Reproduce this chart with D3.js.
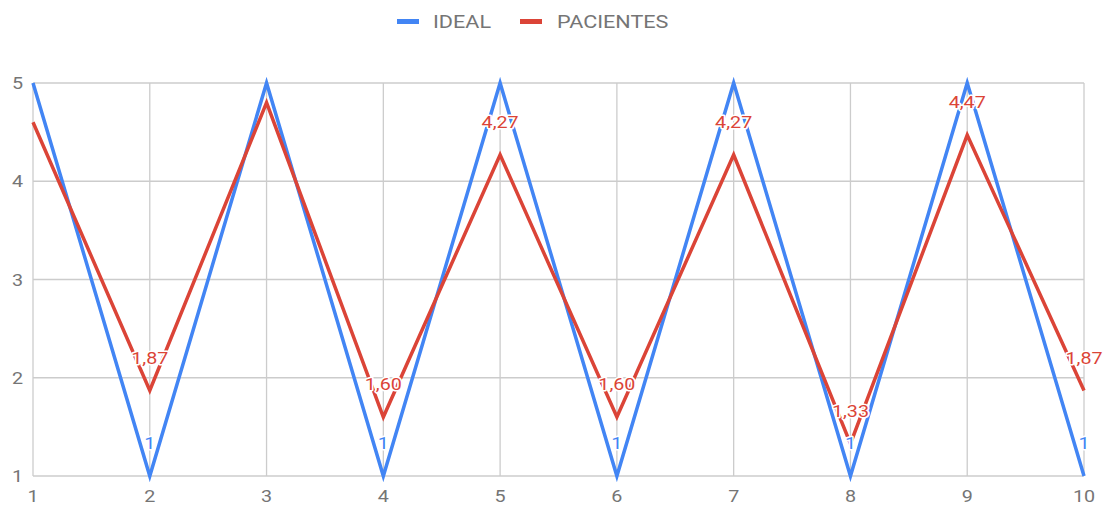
<!DOCTYPE html>
<html><head><meta charset="utf-8">
<script src="https://cdn.jsdelivr.net/npm/d3@7"></script>
<style>body{margin:0;background:#fff;}svg{display:block;font-family:Roboto, "Noto Sans", sans-serif;}</style>
</head><body>
<svg id="c" width="1112" height="506"></svg>
<script>
const categories = [1,2,3,4,5,6,7,8,9,10];
const ideal = [5,1,5,1,5,1,5,1,5,1];
const pacientes = [4.6,1.87,4.8,1.60,4.27,1.60,4.27,1.33,4.47,1.87];
const idealLabelShown = [false,true,false,true,false,true,false,true,false,true];
const pacLabelShown = [false,true,false,true,true,true,true,true,true,true];
const yTicks = [1,2,3,4,5];
const seriesNames = ["IDEAL","PACIENTES"];
const colors = ["#4285F4","#DB4437"];

const svg = d3.select("#c");
const m = {l:33, r:1084, t:83, b:476};
const x = d3.scaleLinear().domain([1,10]).range([m.l,m.r]);
const y = d3.scaleLinear().domain([1,5]).range([m.b,m.t]);
const SX = 1.16;
const place = (px,py) => `translate(${px},${py}) scale(${SX},1)`;

// grid
svg.append("g").selectAll("line").data(yTicks).join("line")
  .attr("x1",m.l).attr("x2",m.r).attr("y1",d=>y(d)).attr("y2",d=>y(d))
  .attr("stroke","#cccccc").attr("stroke-width",1.3);
svg.append("g").selectAll("line").data(categories).join("line")
  .attr("x1",d=>x(d)).attr("x2",d=>x(d)).attr("y1",m.t).attr("y2",m.b)
  .attr("stroke","#cccccc").attr("stroke-width",1.3);

// axis labels
svg.append("g").selectAll("text").data(yTicks).join("text")
  .attr("transform",d=>place(23,y(d))).attr("dy","0.36em").attr("text-anchor","end")
  .attr("fill","#757575").attr("font-size",17).text(d=>d);
svg.append("g").selectAll("text").data(categories).join("text")
  .attr("transform",d=>place(x(d),496)).attr("dy","0.36em").attr("text-anchor","middle")
  .attr("fill","#757575").attr("font-size",17).text(d=>d);

const line = d3.line().x((d,i)=>x(categories[i])).y(d=>y(d));
[ideal,pacientes].forEach((s,k)=>{
  svg.append("path").datum(s).attr("d",line).attr("fill","none")
    .attr("stroke",colors[k]).attr("stroke-width",3.5).attr("stroke-linejoin","miter");
});

const fmt = v => Number.isInteger(v) ? String(v) : v.toFixed(2).replace(".",",");
[[ideal,idealLabelShown],[pacientes,pacLabelShown]].forEach(([s,shown],k)=>{
  const pts = s.map((v,i)=>({v,i})).filter(p=>shown[p.i]);
  const g = svg.append("g");
  g.selectAll("text.h").data(pts).join("text")
    .attr("transform",p=>place(x(categories[p.i]),y(p.v)-33)).attr("dy","0.36em")
    .attr("text-anchor","middle").attr("font-size",17)
    .attr("fill","none").attr("stroke","#fff").attr("stroke-width",3).attr("stroke-linejoin","round")
    .text(p=>fmt(p.v));
  g.selectAll("text.t").data(pts).join("text")
    .attr("transform",p=>place(x(categories[p.i]),y(p.v)-33)).attr("dy","0.36em")
    .attr("text-anchor","middle").attr("font-size",17).attr("fill",colors[k])
    .text(p=>fmt(p.v));
});

// legend
const leg = [{x:397,tx:433},{x:520,tx:557}];
seriesNames.forEach((n,k)=>{
  svg.append("line").attr("x1",leg[k].x).attr("x2",leg[k].x+22).attr("y1",21.5).attr("y2",21.5)
    .attr("stroke",colors[k]).attr("stroke-width",5);
  svg.append("text").attr("transform",`translate(${leg[k].tx},21.5) scale(1.2,1)`).attr("dy","0.36em")
    .attr("font-size",18).attr("fill","#757575").text(n);
});
</script>
</body></html>
